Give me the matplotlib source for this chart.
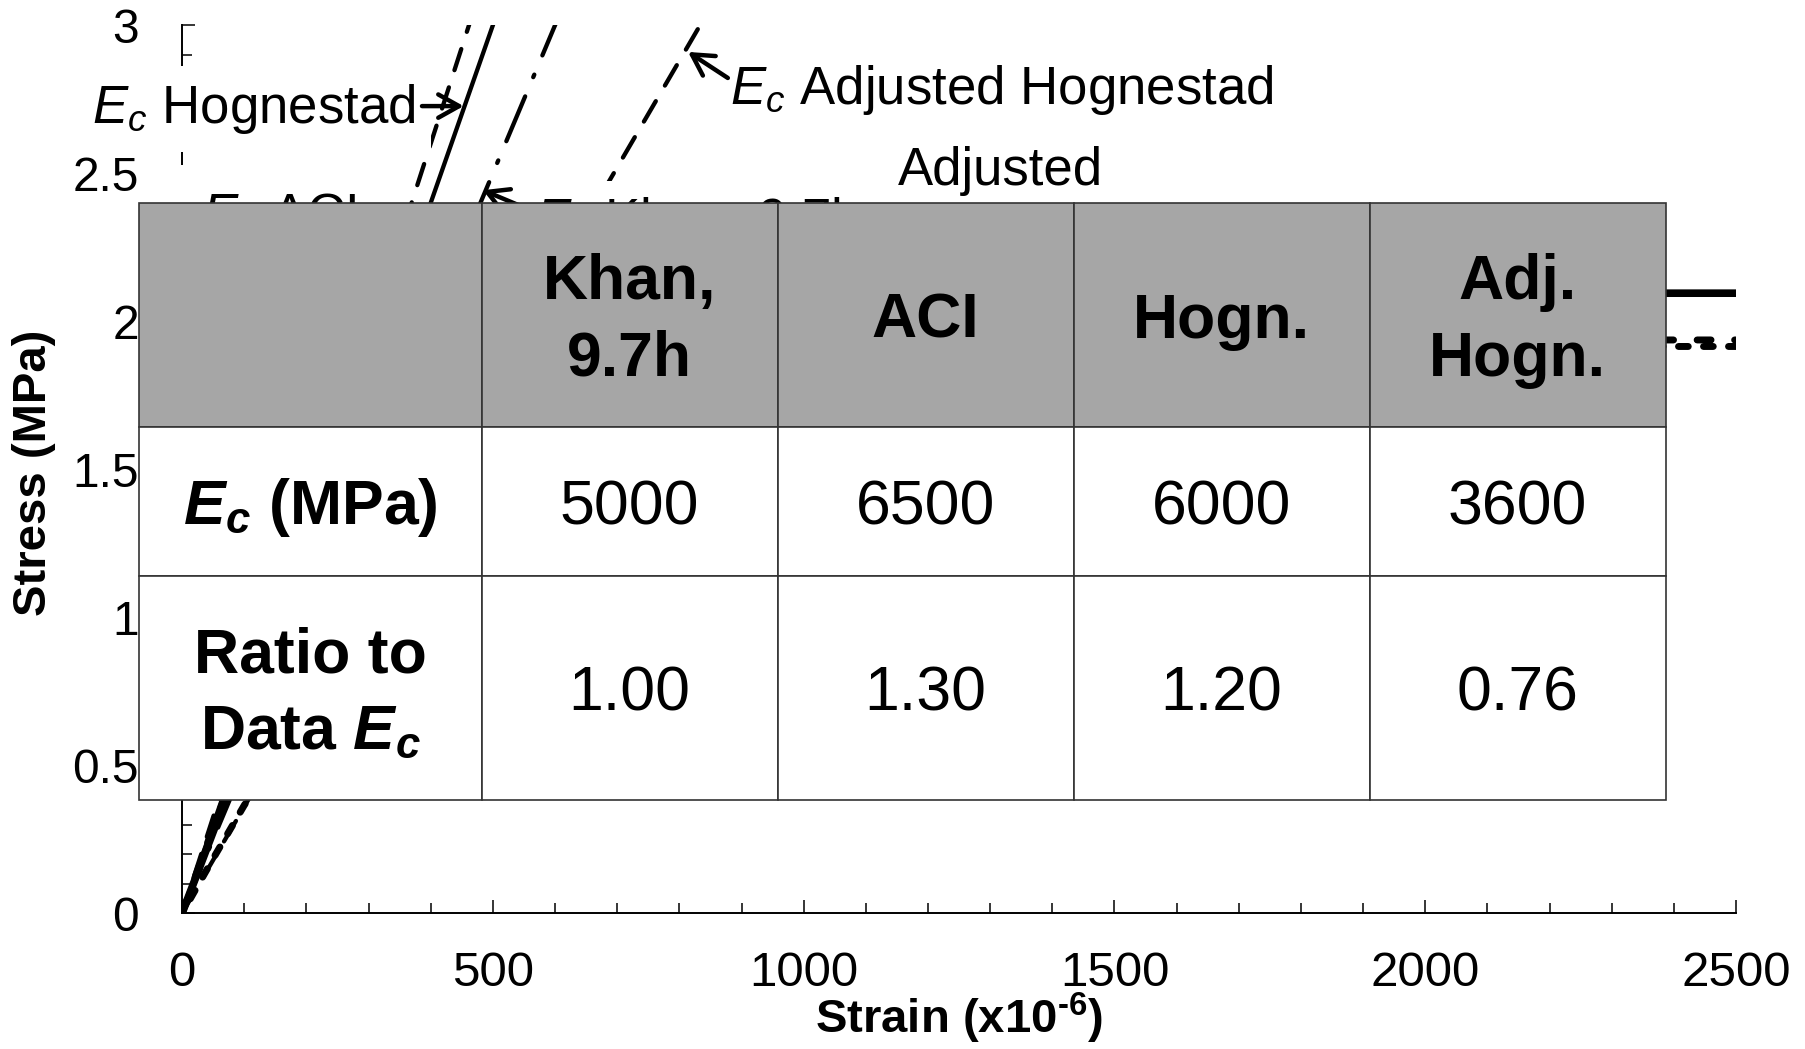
import matplotlib
matplotlib.use("Agg")
import matplotlib.pyplot as plt
from matplotlib.patches import Rectangle
from matplotlib.ticker import MultipleLocator, FuncFormatter

plt.rcParams["font.family"] = ["Liberation Sans", "DejaVu Sans"]
plt.rcParams["mathtext.fontset"] = "custom"
plt.rcParams["mathtext.rm"] = "Liberation Sans"
plt.rcParams["mathtext.it"] = "Liberation Sans:italic"
plt.rcParams["mathtext.bf"] = "Liberation Sans:bold"
plt.rcParams["mathtext.bfit"] = "Liberation Sans:bold:italic"
plt.rcParams["lines.scale_dashes"] = False

# table values
models = ["Khan,\n9.7h", "ACI", "Hogn.", "Adj.\nHogn."]
ec_mpa = [5000, 6500, 6000, 3600]
ec_ratio = [1.00, 1.30, 1.20, 0.76]

# measured curve (strain x1e-6, stress MPa)
data_strain = [0, 20, 40, 60, 75, 150, 300, 500, 800, 1200, 1600, 2000, 2500]
data_stress = [0, 0.11, 0.22, 0.33, 0.41, 0.80, 1.40, 1.82, 2.02, 2.08, 2.09, 2.095, 2.095]

# Hognestad model curves
hog_strain = [0, 50, 100, 200, 300, 400, 500, 650, 800, 1200, 1800, 2500]
hog_stress = [0, 0.29, 0.56, 1.00, 1.36, 1.62, 1.80, 1.93, 1.937, 1.937, 1.937, 1.937]
adj_strain = [0, 50, 100, 200, 300, 400, 600, 800, 1060, 1500, 2000, 2500]
adj_stress = [0, 0.185, 0.365, 0.68, 0.95, 1.18, 1.55, 1.78, 1.915, 1.915, 1.915, 1.915]

fig = plt.figure(figsize=(18.06, 10.49), dpi=100)
ax = fig.add_axes([0.1008, 0.1293, 0.8605, 0.8466])

ax.plot(data_strain, data_stress, color="k", lw=5.5, solid_capstyle="round", zorder=2)
ax.plot(hog_strain, hog_stress, color="k", lw=5, ls=(0, (10, 17)),
        dash_capstyle="round", zorder=2)
ax.plot(adj_strain, adj_stress, color="k", lw=5, ls=(6, (7, 11)),
        dash_capstyle="round", zorder=2)

# initial modulus lines, stress = E * strain
ec_styles = [(0, (35, 15, 2, 15)), (0, (16, 13)), "-", (0, (17, 13))]
for e, ls in zip(ec_mpa, ec_styles):
    ax.plot([0, 3.05 / e * 1e6], [0, 3.05], color="k", lw=3.1, ls=ls,
            dash_capstyle="round", zorder=2)

ax.set_xlim(0, 2500)
ax.set_ylim(0, 3)
ax.xaxis.set_major_locator(MultipleLocator(500))
ax.xaxis.set_minor_locator(MultipleLocator(100))
ax.yaxis.set_major_locator(MultipleLocator(0.5))
ax.yaxis.set_minor_locator(MultipleLocator(0.1))
ax.yaxis.set_major_formatter(FuncFormatter(lambda v, _: f"{v:g}"))
ax.tick_params(which="both", direction="in", width=1.1)
ax.tick_params(axis="x", labelsize=35.5)
ax.tick_params(axis="y", labelsize=34.5)
ax.tick_params(which="major", length=9.5)
ax.tick_params(which="minor", length=7)
ax.tick_params(axis="x", which="major", pad=27)
ax.tick_params(axis="y", which="major", pad=31)
for s in ["top", "right"]:
    ax.spines[s].set_visible(False)
for s in ["left", "bottom"]:
    ax.spines[s].set_linewidth(1.4)

ax.set_xlabel("Strain (x10$^{\\mathbf{\u20106}}$)", fontsize=34, fontweight="bold")
ax.xaxis.set_label_coords(0.5, -0.087)
ax.set_ylabel("Stress (MPa)", fontsize=34, fontweight="bold")
ax.yaxis.set_label_coords(-0.081, 0.496)

# labels with white boxes
lab = dict(fontsize=38, va="baseline", zorder=3)
ax.text(375, 2.670, r"$E_c$ Hognestad", ha="right",
        bbox=dict(boxstyle="square,pad=0.3", fc="white", ec="none"), **lab)
ax.text(32, 2.307, r"$E_c$ ACI", ha="left",
        bbox=dict(boxstyle="square,pad=0.5", fc="white", ec="none"), **lab)
ax.text(568, 2.288, r"$E_c$ Khan, 9.7h", ha="left",
        bbox=dict(boxstyle="square,pad=0.3", fc="white", ec="none"), **lab)
ax.text(881, 2.735, r"$E_c$ Adjusted Hognestad", ha="left", **lab)
# second line of this label sits behind the table
ax.text(1316, 2.265, "Adjusted\nHognestad", ha="center", **lab)

arrow = dict(arrowstyle="->,head_length=0.5,head_width=0.28", lw=3.2,
             color="k", mutation_scale=30, shrinkA=0, shrinkB=0)
ax.annotate("", xy=(453, 2.727), xytext=(386, 2.727), arrowprops=arrow, zorder=4)
ax.annotate("", xy=(814, 2.91), xytext=(878, 2.822), arrowprops=arrow, zorder=4)
ax.annotate("", xy=(484, 2.443), xytext=(560, 2.376), arrowprops=arrow, zorder=4)
ax.annotate("", xy=(352, 2.33), xytext=(265, 2.33), arrowprops=arrow, zorder=4)

# table drawn over the axes (axes fraction)
col_x = [-0.0274, 0.1927, 0.3832, 0.5737, 0.7642, 0.9546]
row_y = [0.8002, 0.5474, 0.3800, 0.1271]
rows = [
    [""] + models,
    [r"$\mathbfit{E}_{\mathbfit{c}}$ (MPa)"] + [str(v) for v in ec_mpa],
    ["Ratio to\nData $\\mathbfit{E}_{\\mathbfit{c}}$"] + [f"{v:.2f}" for v in ec_ratio],
]
for r, row in enumerate(rows):
    y0, y1 = row_y[r + 1], row_y[r]
    for c, txt in enumerate(row):
        x0, x1 = col_x[c], col_x[c + 1]
        fc = "#a6a6a6" if r == 0 else "white"
        ax.add_patch(Rectangle((x0, y0), x1 - x0, y1 - y0, transform=ax.transAxes,
                               fc=fc, ec="#333333", lw=1.2, clip_on=False, zorder=6))
        bold = r == 0 or c == 0
        ax.text((x0 + x1) / 2, (y0 + y1) / 2 - 0.007, txt, transform=ax.transAxes,
                ha="center", va="center", fontsize=45, linespacing=1.38,
                fontweight="bold" if bold else "normal", zorder=7)

fig.savefig("out.png", dpi=100)
